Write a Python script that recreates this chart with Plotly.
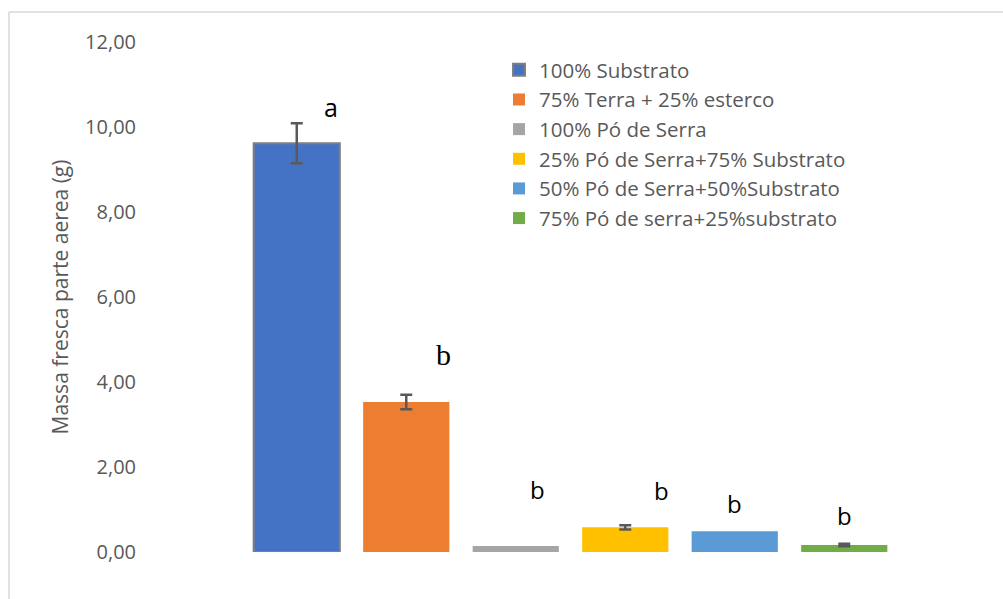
import plotly.graph_objects as go

treatments = [
    "100% Substrato",
    "75% Terra + 25% esterco",
    "100% Pó de Serra",
    "25% Pó de Serra+75% Substrato",
    "50% Pó de Serra+50%Substrato",
    "75% Pó de serra+25%substrato",
]
means = [9.62, 3.53, 0.14, 0.58, 0.49, 0.165]
errors = [0.47, 0.17, 0.0, 0.05, 0.0, 0.03]
letters = ["a", "b", "b", "b", "b", "b"]
colors = ["#4472C4", "#ED7D31", "#A5A5A5", "#FFC000", "#5B9BD5", "#70AD47"]

y_ticks = [0, 2, 4, 6, 8, 10, 12]
y_tick_text = ["0,00", "2,00", "4,00", "6,00", "8,00", "10,00", "12,00"]

W, H = 1003, 599
ML, MR, MT, MB = 242, 104, 42, 47
PW = W - ML - MR
PH = H - MT - MB

fig = go.Figure()
for i, (name, m, e, c) in enumerate(zip(treatments, means, errors, colors)):
    fig.add_trace(go.Bar(
        x=[i], y=[m], name=name, legendgroup=f"g{i}",
        marker=dict(color=c,
                    line=dict(color="#7F7F7F" if i == 0 else c, width=2 if i == 0 else 0)),
        error_y=dict(type="data", array=[e], visible=e > 0,
                     color="#595959", thickness=2.5, width=6),
        width=0.787,
    ))

# letter labels (position offsets in category / data units)
lab_dx = [0.31, 0.34, 0.2, 0.33, 0.0, 0.0]
lab_y = [10.47, 4.64, 1.48, 1.44, 1.15, 0.85]
lab_font = ["Open Sans", "Liberation Serif, Times New Roman, serif", "Open Sans",
            "Open Sans", "Open Sans", "Open Sans"]
lab_size = [25, 30, 24, 24, 24, 24]
for i, (t, dx, yy, f, s) in enumerate(zip(letters, lab_dx, lab_y, lab_font, lab_size)):
    fig.add_annotation(x=i + dx, y=yy, xref="x", yref="y", text=t, showarrow=False,
                       font=dict(family=f, size=s, color="#000000"))

def px(xpix):
    return (xpix - ML) / PW

def py(ypix):
    return 1 - (ypix - MT) / PH

fig.add_shape(type="line", xref="paper", yref="paper",
              x0=px(9), x1=px(1010), y0=py(12), y1=py(12),
              line=dict(color="#D9D9D9", width=1.5))
fig.add_shape(type="line", xref="paper", yref="paper",
              x0=px(9), x1=px(9), y0=py(12), y1=py(605),
              line=dict(color="#D9D9D9", width=1.5))

fig.update_layout(
    width=W, height=H,
    margin=dict(l=ML, r=MR, t=MT, b=MB, autoexpand=False),
    paper_bgcolor="white", plot_bgcolor="white",
    font=dict(family="Open Sans", color="#595959"),
    showlegend=True,
    legend=dict(x=px(499), y=py(50), xanchor="left", yanchor="top",
                font=dict(size=20.5, color="#595959"),
                traceorder="grouped", tracegroupgap=0,
                bgcolor="rgba(0,0,0,0)"),
    xaxis=dict(range=[-0.5, 5.5], showticklabels=False, showgrid=False,
               zeroline=False, showline=False, ticks=""),
    yaxis=dict(range=[0, 12], tickvals=y_ticks, ticktext=y_tick_text,
               showgrid=False, zeroline=False, showline=False,
               tickfont=dict(size=20, color="#595959"),
               ticklabelstandoff=105,
               title=dict(text="Massa fresca parte aerea (g)",
                          font=dict(size=21, color="#595959"), standoff=10)),
    bargap=0.213,
)

fig.write_html("out.html")
